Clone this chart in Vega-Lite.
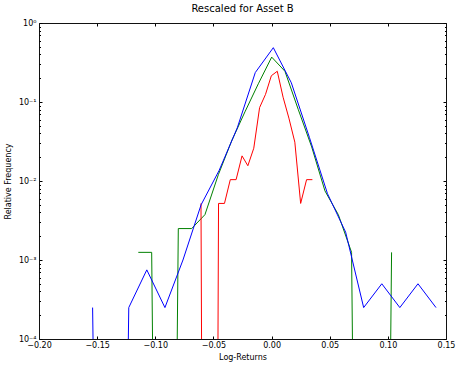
{
  "$schema": "https://vega.github.io/schema/vega-lite/v6.json",
  "autosize": {"type": "none"},
  "width": 407,
  "height": 316,
  "padding": {"left": 39, "top": 23, "right": 28, "bottom": 36},
  "title": {"text": "Rescaled for Asset B", "fontSize": 10, "font": "DejaVu Sans", "fontWeight": "normal", "color": "#000000", "anchor": "middle", "offset": 5},
  "config": {
    "view": {"stroke": null},
    "axis": {"grid": false, "labelFont": "DejaVu Sans", "titleFont": "DejaVu Sans", "labelFontSize": 8, "titleFontSize": 8, "titleFontWeight": "normal", "labelColor": "#000000", "titleColor": "#000000", "tickColor": "#000000", "domainColor": "#111111", "labelFlush": false, "labelOverlap": false}
  },
  "datasets": {
    "blue": [
      {"logret": -0.1539, "freq": 0.00025},
      {"logret": -0.1384, "freq": 1e-20},
      {"logret": -0.1228, "freq": 0.00025},
      {"logret": -0.1073, "freq": 0.00075},
      {"logret": -0.0917, "freq": 0.00025},
      {"logret": -0.0762, "freq": 0.001},
      {"logret": -0.0606, "freq": 0.005},
      {"logret": -0.0451, "freq": 0.0136},
      {"logret": -0.0295, "freq": 0.047},
      {"logret": -0.0140, "freq": 0.236},
      {"logret": 0.0015, "freq": 0.487},
      {"logret": 0.0170, "freq": 0.175},
      {"logret": 0.0326, "freq": 0.0354},
      {"logret": 0.0481, "freq": 0.0069},
      {"logret": 0.0637, "freq": 0.00225},
      {"logret": 0.0792, "freq": 0.00025},
      {"logret": 0.0948, "freq": 0.0005},
      {"logret": 0.1103, "freq": 0.00025},
      {"logret": 0.1259, "freq": 0.0005},
      {"logret": 0.1414, "freq": 0.00025}
    ],
    "green": [
      {"logret": -0.1146, "freq": 0.00125},
      {"logret": -0.1031, "freq": 0.00125},
      {"logret": -0.0917, "freq": 1e-20},
      {"logret": -0.0802, "freq": 0.0025},
      {"logret": -0.0687, "freq": 0.0025},
      {"logret": -0.0573, "freq": 0.00375},
      {"logret": -0.0458, "freq": 0.012},
      {"logret": -0.0344, "freq": 0.032},
      {"logret": -0.0229, "freq": 0.075},
      {"logret": -0.0114, "freq": 0.17},
      {"logret": 0.0001, "freq": 0.37},
      {"logret": 0.0115, "freq": 0.245},
      {"logret": 0.0230, "freq": 0.08},
      {"logret": 0.0345, "freq": 0.027},
      {"logret": 0.0459, "freq": 0.0075},
      {"logret": 0.0574, "freq": 0.00375},
      {"logret": 0.0688, "freq": 0.00125},
      {"logret": 0.0803, "freq": 1e-20},
      {"logret": 0.0918, "freq": 1e-20},
      {"logret": 0.1032, "freq": 0.00125}
    ],
    "red": [
      {"logret": -0.0607, "freq": 0.0052},
      {"logret": -0.0557, "freq": 1e-20},
      {"logret": -0.0506, "freq": 1e-20},
      {"logret": -0.0456, "freq": 0.0052},
      {"logret": -0.0405, "freq": 0.0052},
      {"logret": -0.0355, "freq": 0.0104},
      {"logret": -0.0305, "freq": 0.0104},
      {"logret": -0.0254, "freq": 0.0208},
      {"logret": -0.0204, "freq": 0.0156},
      {"logret": -0.0153, "freq": 0.026},
      {"logret": -0.0103, "freq": 0.085},
      {"logret": -0.0052, "freq": 0.125},
      {"logret": -0.0002, "freq": 0.215},
      {"logret": 0.0049, "freq": 0.245},
      {"logret": 0.0099, "freq": 0.115},
      {"logret": 0.0149, "freq": 0.0625},
      {"logret": 0.0200, "freq": 0.031},
      {"logret": 0.0250, "freq": 0.0052},
      {"logret": 0.0301, "freq": 0.0104},
      {"logret": 0.0351, "freq": 0.0104}
    ]
  },
  "resolve": {"axis": {"x": "independent", "y": "independent"}},
  "layer": [
    {
      "data": {"name": "green"},
      "mark": {"type": "line", "color": "#008000", "strokeWidth": 1, "clip": true},
      "encoding": {
        "x": {"field": "logret", "type": "quantitative", "scale": {"domain": [-0.2, 0.15], "nice": false, "zero": false},
          "axis": {"orient": "bottom", "values": [-0.2, -0.15, -0.1, -0.05, 0, 0.05, 0.1, 0.15], "labelExpr": "replace(format(datum.value, '.2f'), '-', '\u2212')", "tickSize": -3, "labelPadding": 5, "title": "Log-Returns", "titlePadding": 4}},
        "y": {"field": "freq", "type": "quantitative", "scale": {"type": "log", "domain": [0.0001, 1], "nice": false},
          "axis": {"orient": "left", "values": [0.0001, 0.001, 0.01, 0.1, 1], "labelExpr": "datum.value > 0.5 ? '10\u2070' : datum.value > 0.05 ? '10\u207b\u00b9' : datum.value > 0.005 ? '10\u207b\u00b2' : datum.value > 0.0005 ? '10\u207b\u00b3' : '10\u207b\u2074'", "tickSize": -3, "labelPadding": 6, "title": "Relative Frequency", "titlePadding": 6}}
      }
    },
    {
      "data": {"name": "red"},
      "mark": {"type": "line", "color": "#ff0000", "strokeWidth": 1, "clip": true},
      "encoding": {
        "x": {"field": "logret", "type": "quantitative", "scale": {"domain": [-0.2, 0.15], "nice": false, "zero": false},
          "axis": {"orient": "top", "values": [-0.2, -0.15, -0.1, -0.05, 0, 0.05, 0.1, 0.15], "labels": false, "tickSize": -3, "title": null}},
        "y": {"field": "freq", "type": "quantitative", "scale": {"type": "log", "domain": [0.0001, 1], "nice": false},
          "axis": {"orient": "right", "values": [0.0001, 0.001, 0.01, 0.1, 1], "labels": false, "tickSize": -3, "title": null}}
      }
    },
    {
      "data": {"name": "blue"},
      "mark": {"type": "line", "color": "#0000ff", "strokeWidth": 1, "clip": true},
      "encoding": {
        "x": {"field": "logret", "type": "quantitative", "scale": {"domain": [-0.2, 0.15], "nice": false, "zero": false}, "axis": null},
        "y": {"field": "freq", "type": "quantitative", "scale": {"type": "log", "domain": [0.0001, 1], "nice": false},
          "axis": {"orient": "left", "values": [0.0002, 0.0003, 0.0004, 0.0005, 0.0006, 0.0007, 0.0008, 0.0009, 0.002, 0.003, 0.004, 0.005, 0.006, 0.007, 0.008, 0.009, 0.02, 0.03, 0.04, 0.05, 0.06, 0.07, 0.08, 0.09, 0.2, 0.3, 0.4, 0.5, 0.6, 0.7, 0.8, 0.9], "labels": false, "domain": false, "tickSize": -1.5, "title": null}}
      }
    },
    {
      "data": {"name": "blue"},
      "mark": {"type": "line", "color": "#0000ff", "strokeOpacity": 0, "clip": true},
      "encoding": {
        "x": {"field": "logret", "type": "quantitative", "scale": {"domain": [-0.2, 0.15], "nice": false, "zero": false}, "axis": null},
        "y": {"field": "freq", "type": "quantitative", "scale": {"type": "log", "domain": [0.0001, 1], "nice": false},
          "axis": {"orient": "right", "values": [0.0002, 0.0003, 0.0004, 0.0005, 0.0006, 0.0007, 0.0008, 0.0009, 0.002, 0.003, 0.004, 0.005, 0.006, 0.007, 0.008, 0.009, 0.02, 0.03, 0.04, 0.05, 0.06, 0.07, 0.08, 0.09, 0.2, 0.3, 0.4, 0.5, 0.6, 0.7, 0.8, 0.9], "labels": false, "domain": false, "tickSize": -1.5, "title": null}}
      }
    }
  ]
}
